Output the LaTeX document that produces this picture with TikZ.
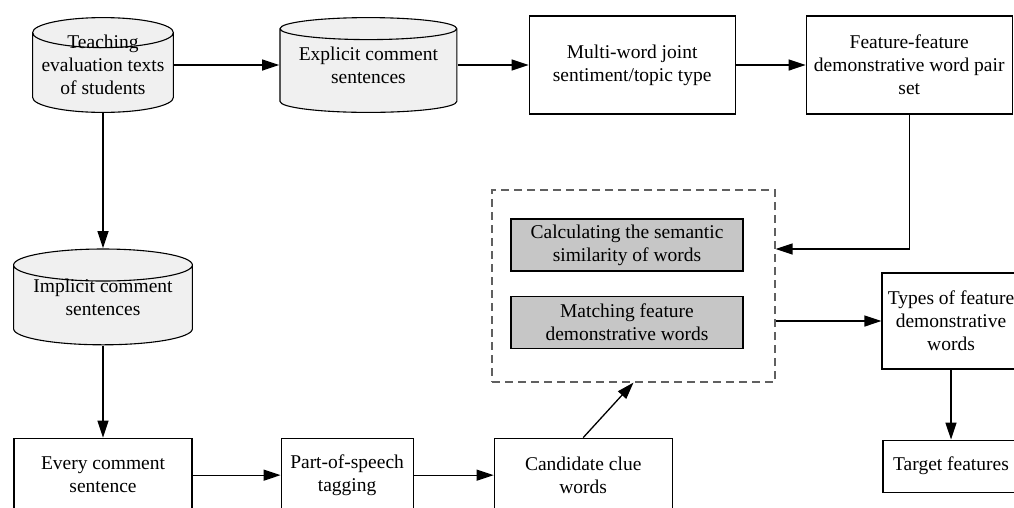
\documentclass[tikz,border=0pt]{standalone}
\usepackage{fontspec}
\setmainfont{Liberation Serif}
\usetikzlibrary{positioning,calc,arrows.meta}
\definecolor{cylgray}{HTML}{F0F0F0}
\definecolor{boxgray}{HTML}{C6C6C6}
\definecolor{dashgray}{HTML}{606060}

\begin{document}
\begin{tikzpicture}[x=1pt, y=-1pt,
    every node/.style={align=center, font=\fontsize{19.5}{23}\selectfont, inner sep=2pt},
    store/.style={minimum height=96pt, path picture={
        \draw[fill=cylgray, line width=1.1pt]
          let \p1=(path picture bounding box.south west), \p2=(path picture bounding box.north east),
              \n1={(\x2-\x1)/2-0.6pt}, \n2={#1}
          in (\x1+0.6pt, \y2-0.6pt-\n2) -- (\x1+0.6pt, \y1+0.6pt+\n2)
             arc[start angle=180, end angle=360, x radius=\n1, y radius=\n2]
             -- (\x2-0.6pt, \y2-0.6pt-\n2)
             arc[start angle=0, end angle=180, x radius=\n1, y radius=\n2] -- cycle
             (\x1+0.6pt, \y2-0.6pt-\n2) arc[start angle=180, end angle=540, x radius=\n1, y radius=\n2];
      }},
    store/.default=15pt,
    proc/.style={draw, line width=1.1pt, minimum height=98pt},
    grayproc/.style={draw, fill=boxgray, line width=1.1pt, minimum width=232pt, minimum height=52pt},
    flow/.style={-{Triangle[length=17pt,width=11pt]}, line width=1.3pt}]
    \useasboundingbox (0,0) rectangle (1014,507);
    \clip (0,0) rectangle (1014,507);
    % top row
    \node (teach) [store, minimum width=142pt] at (103,65) {Teaching\\evaluation texts\\of students};
    \node (expl) [store=11pt, right=105pt of teach, minimum width=178pt] {Explicit comment\\sentences};
    \node (multi) [proc, right=71pt of expl, minimum width=206pt] {Multi-word joint\\sentiment/topic type};
    \node (feat) [proc, right=70pt of multi, minimum width=206pt] {Feature-feature\\demonstrative word pair\\set};
    % left column and bottom row
    \node (impl) [store=16pt, below=135pt of teach, minimum width=180pt, minimum height=97pt] {Implicit comment\\sentences};
    \node (every) [proc, below=92pt of impl, minimum width=178pt, minimum height=74pt] {Every comment\\sentence};
    \node (pos) [proc, right=88pt of every, minimum width=132pt, minimum height=74pt] {Part-of-speech\\tagging};
    \node (cand) [proc, right=80pt of pos, minimum width=178pt, minimum height=74pt] {Candidate clue\\words};
    % matching step
    \node (dash) [draw=dashgray, dashed, dash pattern=on 8pt off 5pt, line width=1.1pt, minimum width=283pt, minimum height=192pt] at (633.5,286) {};
    \node (calc) [grayproc] at (627,245) {Calculating the semantic\\similarity of words};
    \node (match) [grayproc, below=24pt of calc] {Matching feature\\demonstrative words};
    \node (types) [proc, minimum width=138pt, minimum height=96pt] at (951,321) {Types of feature\\demonstrative\\words};
    \node (target) [proc, below=70pt of types, minimum width=136pt, minimum height=52pt] {Target features};
    \coordinate (dashin) at (dash.east |- calc.east);
    % connectors
    \draw[flow] (teach) -- (expl);
    \draw[flow] (expl) -- (multi);
    \draw[flow] (multi) -- (feat);
    \draw[flow] (teach) -- (impl);
    \draw[flow] (impl) -- (every);
    \draw[flow] (every) -- (pos);
    \draw[flow] (pos) -- (cand);
    \draw[flow] (cand.north) -- (dash.south);
    \draw[flow] (feat.south) |- ([yshift=-4pt]dashin);
    \draw[flow] (dash.east |- types.west) -- (types.west);
    \draw[flow] (types) -- (target);
\end{tikzpicture}
\end{document}
